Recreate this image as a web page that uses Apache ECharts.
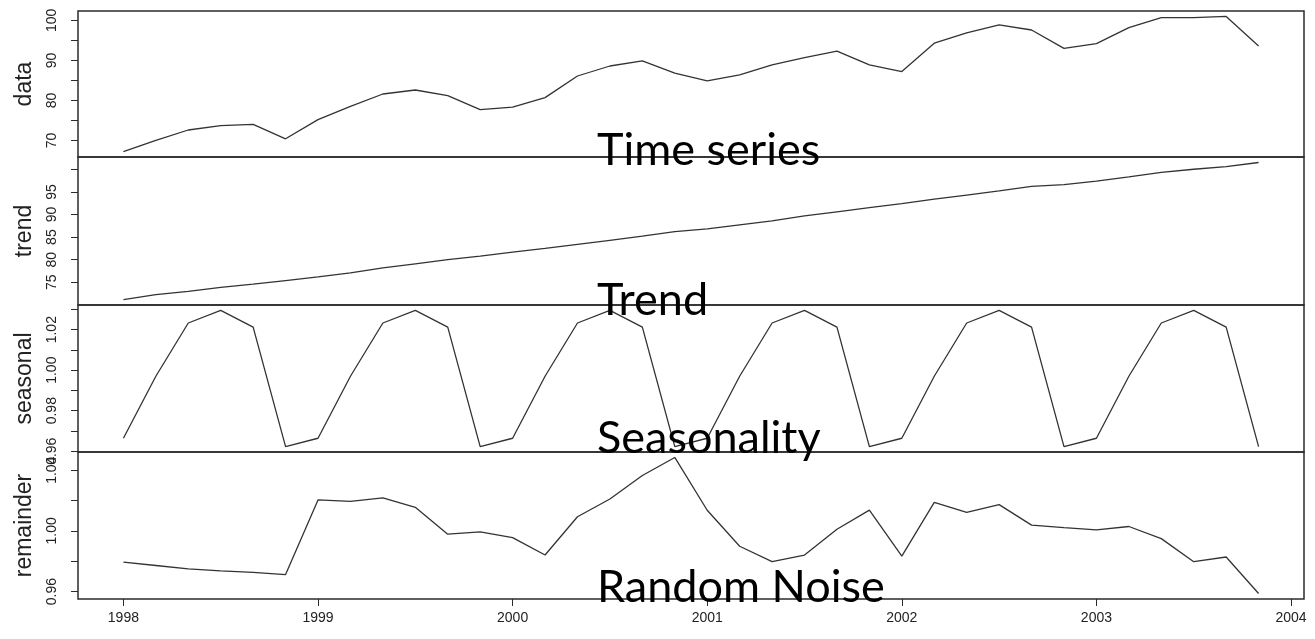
<!DOCTYPE html>
<html>
<head>
<meta charset="utf-8">
<script src="https://cdn.jsdelivr.net/npm/echarts@6/dist/echarts.min.js"></script>
<style>
  html, body { margin: 0; padding: 0; background: #ffffff; }
  #chart { width: 1315px; height: 639px; }
</style>
</head>
<body>
<div id="chart"></div>
<script>
// Bi-monthly series (6 observations per year) and its multiplicative decomposition
const startYear = 1998;
const periodsPerYear = 6;

const dataValues = [
  67.2, 70.0, 72.6, 73.7, 74.0, 70.4,
  75.2, 78.5, 81.6, 82.6, 81.2, 77.7,
  78.3, 80.7, 86.1, 88.6, 89.9, 86.8,
  84.9, 86.4, 88.9, 90.7, 92.3, 88.9,
  87.2, 94.3, 96.9, 98.9, 97.6, 93.0,
  94.2, 98.2, 100.7, 100.7, 101.0, 93.6
];

const trendValues = [
  71.2, 72.3, 73.0, 73.9, 74.6, 75.4,
  76.2, 77.1, 78.2, 79.1, 80.0, 80.8,
  81.7, 82.5, 83.4, 84.3, 85.2, 86.2,
  86.8, 87.7, 88.6, 89.7, 90.6, 91.5,
  92.4, 93.4, 94.3, 95.2, 96.2, 96.6,
  97.4, 98.3, 99.3, 100.0, 100.6, 101.5
];

const seasonalValues = [
  0.9664, 0.9970, 1.0233, 1.0295, 1.0213, 0.9623,
  0.9664, 0.9970, 1.0233, 1.0295, 1.0213, 0.9623,
  0.9664, 0.9970, 1.0233, 1.0295, 1.0213, 0.9623,
  0.9664, 0.9970, 1.0233, 1.0295, 1.0213, 0.9623,
  0.9664, 0.9970, 1.0233, 1.0295, 1.0213, 0.9623,
  0.9664, 0.9970, 1.0233, 1.0295, 1.0213, 0.9623
];

const remainderValues = [
  0.9794, 0.9772, 0.9750, 0.9737, 0.9727, 0.9712,
  1.0204, 1.0195, 1.0217, 1.0155, 0.9978, 0.9993,
  0.9956, 0.9841, 1.0093, 1.0210, 1.0365, 1.0484,
  1.0136, 0.9899, 0.9797, 0.9841, 1.0011, 1.0137,
  0.9834, 1.0188, 1.0122, 1.0173, 1.0038, 1.0022,
  1.0007, 1.0029, 0.9949, 0.9797, 0.9828, 0.9587
];

const yearTicks = [1998, 1999, 2000, 2001, 2002, 2003, 2004];

const panelNames = ['data', 'trend', 'seasonal', 'remainder'];
const panelTicks = [
  [70, 75, 80, 85, 90, 95, 100],
  [75, 80, 85, 90, 95, 100],
  [0.96, 0.97, 0.98, 0.99, 1.00, 1.01, 1.02, 1.03],
  [0.96, 0.98, 1.00, 1.02, 1.04]
];
const panelTickLabels = [
  [70, 80, 90, 100],
  [75, 80, 85, 90, 95],
  [0.96, 0.98, 1.00, 1.02],
  [0.96, 1.00, 1.04]
];
const labelDigits = [0, 0, 2, 2];
const panelTitles = ['Time series', 'Trend', 'Seasonality', 'Random Noise'];

const panelSeries = [dataValues, trendValues, seasonalValues, remainderValues];
const times = dataValues.map((_, i) => startYear + i / periodsPerYear);

// axis ranges padded by 4% of the data span on each side
function padded(arr) {
  const lo = Math.min(...arr), hi = Math.max(...arr);
  const pad = (hi - lo) * 0.04;
  return [lo - pad, hi + pad];
}
const xRange = padded(times);

const panelTops = [11, 157, 305, 452];
const panelHeights = [146, 148, 147, 147];
const plotLeft = 78, plotRight = 11;
const ink = '#2b2b2b';

const grids = [], xAxes = [], yAxes = [], series = [], graphics = [];
panelNames.forEach((name, p) => {
  grids.push({
    left: plotLeft, right: plotRight, top: panelTops[p], height: panelHeights[p],
    show: true, borderColor: ink, borderWidth: 1.5, backgroundColor: 'transparent'
  });
  const isBottom = p === panelNames.length - 1;
  xAxes.push({
    type: 'value', gridIndex: p, min: xRange[0], max: xRange[1],
    splitLine: { show: false },
    axisLine: { show: false },
    axisTick: { show: isBottom, length: 7, lineStyle: { color: ink, width: 1 }, customValues: yearTicks },
    axisLabel: { show: isBottom, customValues: yearTicks, margin: 12, color: '#222',
      fontFamily: 'Liberation Sans', fontSize: 14, formatter: v => String(Math.round(v)) }
  });
  const yr = padded(panelSeries[p]);
  yAxes.push({
    type: 'value', gridIndex: p, min: yr[0], max: yr[1],
    name: name, nameLocation: 'middle', nameRotate: 90, nameGap: 42,
    nameTextStyle: { fontFamily: 'Liberation Sans', fontSize: 23, color: '#222' },
    splitLine: { show: false },
    axisLine: { show: false },
    axisTick: { show: true, length: 7, lineStyle: { color: ink, width: 1 }, customValues: panelTicks[p] },
    axisLabel: { show: true, rotate: 90, margin: 19, customValues: panelTickLabels[p], color: '#222',
      fontFamily: 'Liberation Sans', fontSize: 14,
      formatter: v => Number(v).toFixed(labelDigits[p]) }
  });
  series.push({
    type: 'line', xAxisIndex: p, yAxisIndex: p,
    data: times.map((t, i) => [t, panelSeries[p][i]]),
    showSymbol: false, symbol: 'none', smooth: false,
    lineStyle: { color: '#333', width: 1.3 },
    silent: true, z: 3
  });
});

const titleTops = [128, 278, 416, 565];
panelTitles.forEach((t, p) => {
  graphics.push({
    type: 'text', left: 597, top: titleTops[p], z: 100,
    style: { text: t, font: '45px Lato', fill: '#000' }
  });
});

const chart = echarts.init(document.getElementById('chart'), null, { renderer: 'canvas' });
chart.setOption({
  animation: false,
  backgroundColor: '#ffffff',
  grid: grids,
  xAxis: xAxes,
  yAxis: yAxes,
  series: series,
  graphic: graphics
});
</script>
</body>
</html>
